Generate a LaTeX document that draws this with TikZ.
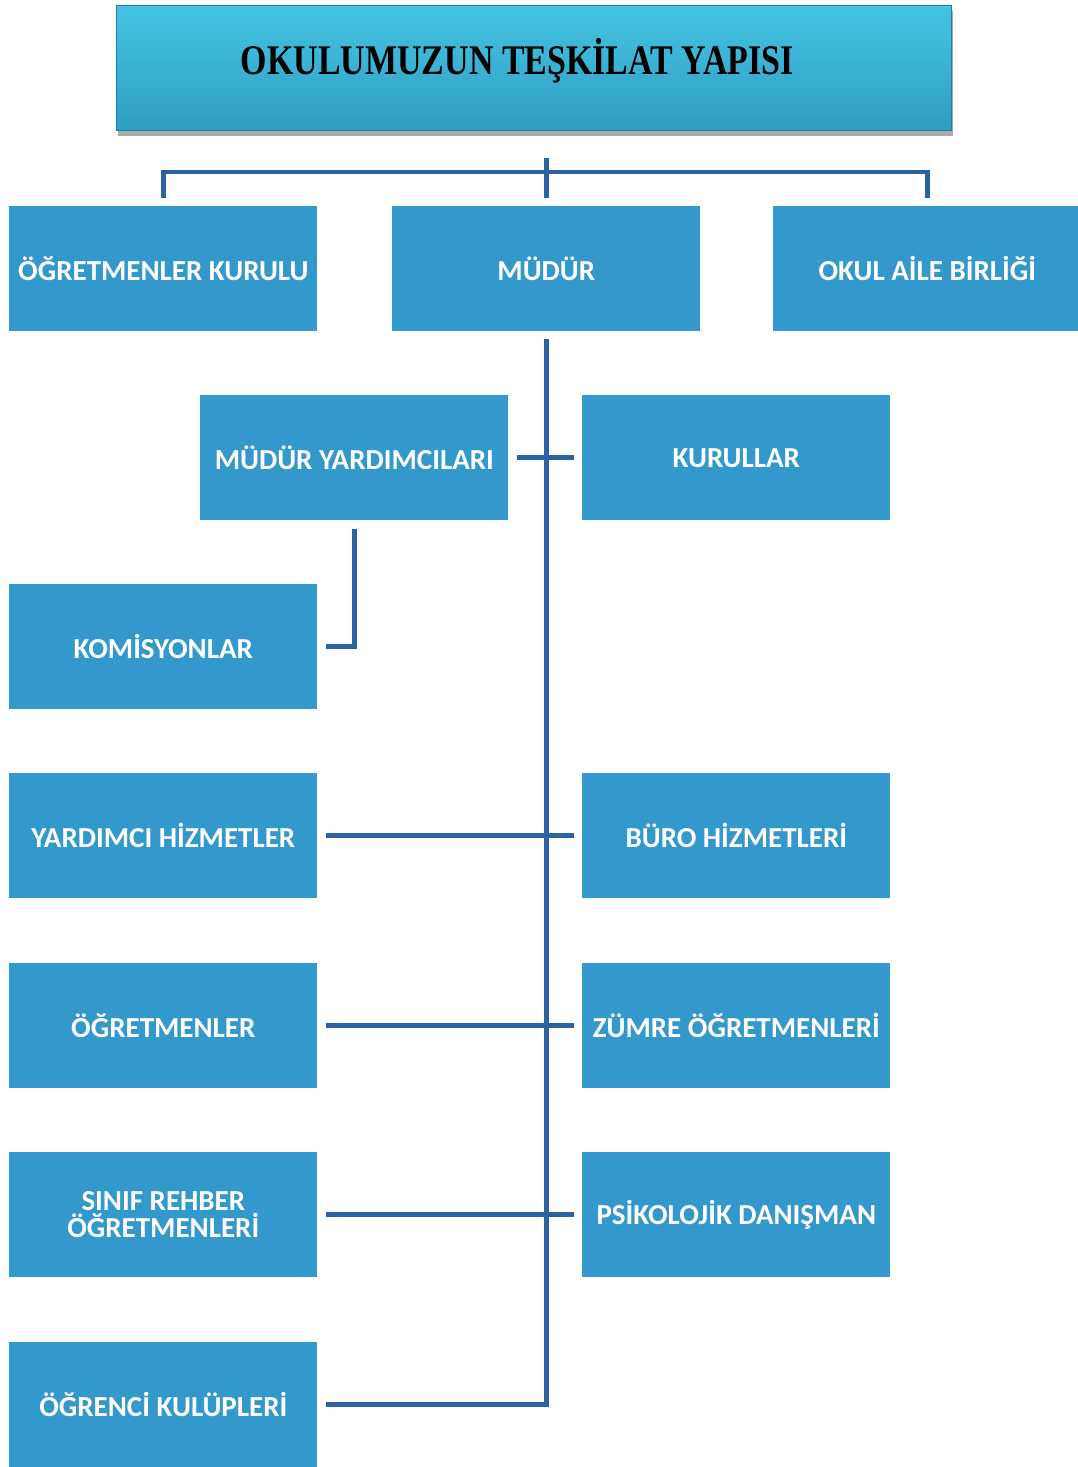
\documentclass[tikz,border=0pt]{standalone}
\usepackage{fontspec}
\usetikzlibrary{calc,shadows}
\newfontfamily\boxfont{Carlito}
\newfontfamily\titlefont{Liberation Serif}
\definecolor{boxblue}{HTML}{3398CC}
\definecolor{linkblue}{HTML}{2C62A0}
\definecolor{titletop}{HTML}{45C4E4}
\definecolor{titlebot}{HTML}{2E9EC2}
\begin{document}
\begin{tikzpicture}[x=0.02cm,y=-0.02cm,
  unitbox/.style={fill=boxblue, draw=none, minimum width=6.16cm, minimum height=2.5cm,
    anchor=north west, inner sep=0pt, text=white, align=center,
    font=\boxfont\bfseries\fontsize{16.5pt}{19pt}\selectfont},
  link/.style={draw=linkblue, line width=2.8pt},
  titlebox/.style={top color=titletop, bottom color=titlebot, draw=titlebot!80!black, line width=0.4pt,
    minimum width=16.7cm, minimum height=2.5cm, anchor=north west, inner sep=0pt,
    drop shadow={shadow xshift=0.3mm, shadow yshift=-1.2mm, fill=black!55, opacity=0.6},
    font=\titlefont\bfseries\fontsize{24pt}{28pt}\selectfont}]
\useasboundingbox (0,0) rectangle (1078,1467);
\fill[white] (0,0) rectangle (1078,1467);
\node[titlebox] (title) at (116,5) {\hspace*{-0.66cm}\raisebox{0.15cm}[\height][\depth]{\scalebox{0.805}[1]{OKULUMUZUN TEŞKİLAT YAPISI}}};
\node[unitbox] (ogk) at (9,206) {ÖĞRETMENLER KURULU};
\node[unitbox] (mudur) at (392,206) {MÜDÜR};
\node[unitbox] (oab) at (773,206) {OKUL AİLE BİRLİĞİ};
\node[unitbox] (myard) at (200,395) {MÜDÜR YARDIMCILARI};
\node[unitbox] (kurul) at (582,395) {KURULLAR};
\node[unitbox] (kom) at (9,584) {KOMİSYONLAR};
\node[unitbox] (yh) at (9,773) {YARDIMCI HİZMETLER};
\node[unitbox] (buro) at (582,773) {BÜRO HİZMETLERİ};
\node[unitbox] (ogr) at (9,963) {ÖĞRETMENLER};
\node[unitbox] (zumre) at (582,963) {ZÜMRE ÖĞRETMENLERİ};
\node[unitbox] (sinif) at (9,1152) {SINIF REHBER\\[-3.5pt]ÖĞRETMENLERİ};
\node[unitbox] (psk) at (582,1152) {PSİKOLOJİK DANIŞMAN};
\node[unitbox] (kulup) at (9,1342) {ÖĞRENCİ KULÜPLERİ};
% top bracket
\coordinate (topstem) at ($(mudur.north)+(0,-48)$);
\draw[link] (topstem) -- ($(mudur.north)+(0,-8)$);
\draw[link] ($(ogk.north)+(0,-8)$) -- ++(0,-26) -| ($(oab.north)+(0,-8)$);
% trunk
\coordinate (trunktop) at ($(mudur.south)+(0,7)$);
\draw[link] (trunktop) |- ($(kulup.east)+(8,0)$);
% branches
\draw[link] ($(myard.east)+(8,0)$) -- ($(kurul.west)+(-8,0)$);
\draw[link] ($(myard.south)+(0,8)$) |- ($(kom.east)+(8,0)$);
\draw[link] ($(yh.east)+(8,0)$) -- ($(buro.west)+(-8,0)$);
\draw[link] ($(ogr.east)+(8,0)$) -- ($(zumre.west)+(-8,0)$);
\draw[link] ($(sinif.east)+(8,0)$) -- ($(psk.west)+(-8,0)$);
\end{tikzpicture}
\end{document}
